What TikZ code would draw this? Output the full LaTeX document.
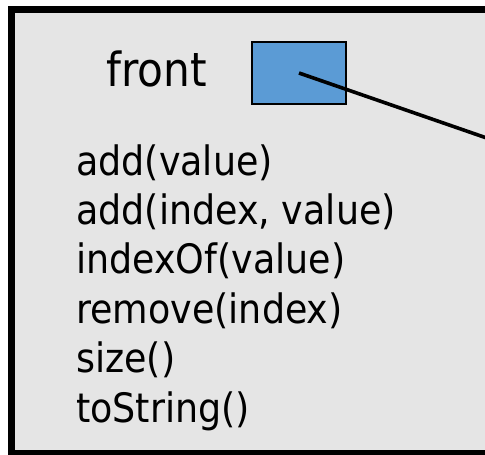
\documentclass[tikz,border=0pt]{standalone}
\usepackage{fontspec}
\setmainfont{DejaVu Sans}[FakeStretch=0.9]
\definecolor{panelgray}{HTML}{E5E5E5}
\definecolor{cellblue}{HTML}{5B9BD5}
\tikzset{
  panel/.style={draw=black, line width=7pt, fill=panelgray},
  refcell/.style={draw=black, line width=2pt, fill=cellblue, inner sep=0pt,
                  minimum width=94pt, minimum height=62pt},
  pointer/.style={draw=black, line width=3.6pt},
  fieldlabel/.style={anchor=base west, inner sep=0pt, font=\fontsize{47}{56}\selectfont},
  methodlabel/.style={anchor=base west, inner sep=0pt, font=\fontsize{40.5}{49}\selectfont}
}
\begin{document}
\begin{tikzpicture}[x=1pt, y=-1pt]
  \fill[white] (0,0) rectangle (485,455);
  \useasboundingbox (0,0) rectangle (485,455);
  \clip (0,0) rectangle (485,455);
  % object panel, running off the right edge
  \draw[panel] (11.5,9.2) rectangle (530,453.5);
  % field and its reference cell
  \node[fieldlabel] (front) at (106,86.7) {front};
  \node[refcell] (ptr) at (299,73) {};
  \coordinate (target) at (530,153);
  \draw[pointer] (ptr.center) -- (target);
  % method list
  \foreach \txt [count=\i] in {add(value), {add(index, value)}, indexOf(value),
                               remove(index), size(), toString()} {
    \node[methodlabel] (m\i) at (76,{175+(\i-1)*49.4}) {\txt};
  }
\end{tikzpicture}
\end{document}
